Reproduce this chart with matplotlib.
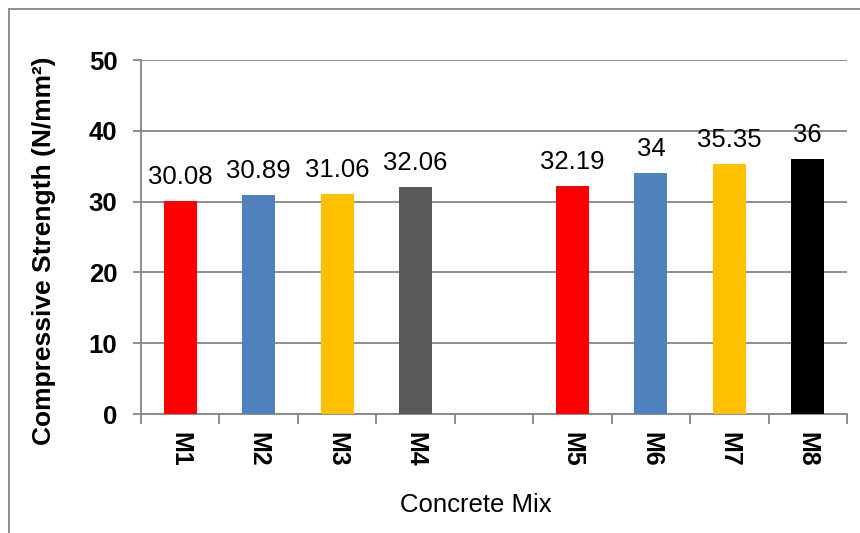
import matplotlib
matplotlib.use("Agg")
import matplotlib.pyplot as plt
from matplotlib.lines import Line2D

plt.rcParams['font.family'] = ['Liberation Sans', 'DejaVu Sans']

# Compressive strength of each concrete mix (an empty slot separates the two groups)
categories = ["M1", "M2", "M3", "M4", "", "M5", "M6", "M7", "M8"]
strength = [30.08, 30.89, 31.06, 32.06, None, 32.19, 34, 35.35, 36]
bar_colors = ["#FF0000", "#4F81BD", "#FFC000", "#595959", None,
              "#FF0000", "#4F81BD", "#FFC000", "#000000"]
y_ticks = [0, 10, 20, 30, 40, 50]

fig = plt.figure(figsize=(8.6, 5.33), dpi=100)
W, H = 860, 533
ax = fig.add_axes([141 / W, 1 - 414 / H, (847 - 141) / W, (414 - 60) / H])

axis_gray = "#868686"
for i, (v, c) in enumerate(zip(strength, bar_colors)):
    if v is None:
        continue
    ax.bar(i, v, width=0.42, color=c, zorder=3)
    ax.annotate(f"{v:g}", xy=(i, v), xytext=(0, 8.5), textcoords="offset points",
                ha="center", va="bottom", fontsize=18.5, color="#000000")

ax.set_xlim(-0.5, len(categories) - 0.5)
ax.set_ylim(0, 50)
ax.set_yticks(y_ticks)
ax.set_yticklabels([str(t) for t in y_ticks], fontsize=18.5, fontweight="bold")
ax.yaxis.grid(True, color=axis_gray, linewidth=1.3, zorder=0)

# Tick marks sit between categories; labels sit at category centres
ax.set_xticks([i - 0.5 for i in range(len(categories) + 1)])
ax.set_xticklabels([])
ax.set_xticks(range(len(categories)), minor=True)
ax.set_xticklabels(categories, minor=True, rotation=270, fontsize=18,
                   fontweight="bold", va="top", ha="center")
ax.tick_params(axis="x", which="minor", length=0, pad=13)
ax.tick_params(axis="x", which="major", length=7, width=1.3, color=axis_gray, direction="out")
ax.tick_params(axis="y", length=6, width=1.3, color=axis_gray, direction="out", pad=11)

for s in ("top", "right"):
    ax.spines[s].set_visible(False)
for s in ("left", "bottom"):
    ax.spines[s].set_color(axis_gray)
    ax.spines[s].set_linewidth(1.3)

fig.text(44 / W, 1 - 251 / H, "Compressive Strength (N/mm²)", rotation=90,
         ha="center", va="center", fontsize=19, fontweight="bold")
fig.text(476 / W, 1 - 505 / H, "Concrete Mix", ha="center", va="center", fontsize=18.5)

# Outer chart frame (top and left edges)
fig.add_artist(Line2D([9 / W, 1], [1 - 9 / H, 1 - 9 / H], color=axis_gray, linewidth=1.3,
                      transform=fig.transFigure))
fig.add_artist(Line2D([9 / W, 9 / W], [0, 1 - 9 / H], color=axis_gray, linewidth=1.3,
                      transform=fig.transFigure))

fig.savefig("out.png", dpi=100)
